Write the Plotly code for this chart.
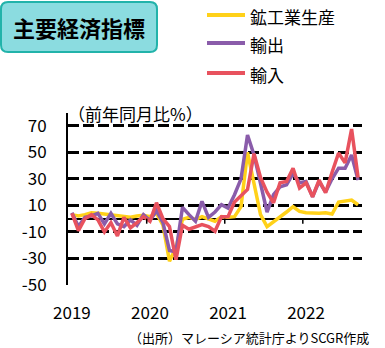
import plotly.graph_objects as go

# Monthly categories: Jan 2019 - Sep 2022
months = [f"{y}-{m:02d}" for y in range(2019, 2023) for m in range(1, 13)][:45]

series_names = ["鉱工業生産", "輸出", "輸入"]

# Year-on-year change (%)
industrial_production = [
    3, 2, 3, 4.5, 4, 3.5, 2.5, 2, 1.5, 1, 2, 2.5,
    1.5, 4, -5, -32, -22, -0.5, 1, -0.5, 1.5, -0.5, -2, 1.5,
    1, 1.5, 9, 50, 27, 3, -6, -2.5, 1.5, 5, 9, 5.5,
    4.5, 4, 4, 4.5, 3.5, 12.5, 13, 14, 10.5,
]
exports = [
    4.5, -6, 1, 2, 4, -4, 4, -4, -6, -1, -5, 3,
    -1.5, 6, -3, -24, -25, 8.5, 3, -2, 13, 1, 5, 10.5,
    8, 18, 30, 63, 48, 27, 5, 18, 24, 25.5, 34, 27,
    28, 16.5, 28, 20, 30, 38, 38, 48, 29,
]
imports = [
    4, -9, 0, 3, -1, -10, -3, -13, 1, -7, -3, 1.5,
    -2, 12, 0, -6, -31, -5, -8, -6, -4.5, -6, -9.5, 1.5,
    1.5, 12.5, 17, 22, 49, 31, 20, 12, 27, 28, 38, 23,
    27, 16.5, 29, 19.5, 35, 49.5, 42, 67.5, 31,
]

year_labels = ["2019", "2020", "2021", "2022"]
y_ticks = [-50, -30, -10, 10, 30, 50, 70]

colors = ["#FFD119", "#8A5CAA", "#E8525E"]
FONT = "Noto Sans CJK JP"

# Page and plot-area geometry (pixels)
W, H = 385, 348
L, R, T, B = 68, 23, 113, 63
PW = W - L - R
PH = H - T - B


def px(xp):
    return (xp - L) / PW


def py(yp):
    return (H - B - yp) / PH


fig = go.Figure()
for name, vals, col in zip(series_names, [industrial_production, exports, imports], colors):
    fig.add_trace(go.Scatter(
        x=months, y=vals, name=name, mode="lines",
        line=dict(color=col, width=3.5),
    ))

shapes = []

# Rounded title box
x0, x1, y0, y1, r = 1, 157, 2, 52, 7
pts = [
    ("M", [(x0 + r, y0)]), ("L", [(x1 - r, y0)]), ("Q", [(x1, y0), (x1, y0 + r)]),
    ("L", [(x1, y1 - r)]), ("Q", [(x1, y1), (x1 - r, y1)]),
    ("L", [(x0 + r, y1)]), ("Q", [(x0, y1), (x0, y1 - r)]),
    ("L", [(x0, y0 + r)]), ("Q", [(x0, y0), (x0 + r, y0)]),
]
path = " ".join(cmd + " ".join(f"{px(a):.5f},{py(b):.5f}" for a, b in p) for cmd, p in pts) + " Z"
shapes.append(dict(type="path", path=path, xref="paper", yref="paper",
                   fillcolor="#8BDCE0", line=dict(color="#22B3AA", width=2), layer="above"))

# Legend (line samples)
legend_rows = [15, 43, 73]
for yp, col in zip(legend_rows, colors):
    shapes.append(dict(type="line", xref="paper", yref="paper",
                       x0=px(207), x1=px(245), y0=py(yp), y1=py(yp),
                       line=dict(color=col, width=4)))

# Year boundary tick marks on the zero line
for k in range(1, len(year_labels)):
    xb = 12 * k - 0.5
    shapes.append(dict(type="line", xref="x", yref="y", x0=xb, x1=xb, y0=0, y1=-3.8,
                       line=dict(color="black", width=1.5)))

annotations = [
    dict(text="<b>主要経済指標</b>", x=px(79), y=py(27), xref="paper", yref="paper",
         xanchor="center", yanchor="middle", showarrow=False,
         font=dict(family=FONT, size=22, color="black")),
    dict(text="（前年同月比%）", x=px(66), y=py(113), xref="paper", yref="paper",
         xanchor="left", yanchor="middle", showarrow=False,
         font=dict(family=FONT, size=17, color="black")),
    dict(text="（出所）マレーシア統計庁よりSCGR作成", x=px(371), y=py(337), xref="paper", yref="paper",
         xanchor="right", yanchor="middle", showarrow=False,
         font=dict(family=FONT, size=13, color="black")),
]
for yp, name in zip(legend_rows, series_names):
    annotations.append(dict(text=name, x=px(248), y=py(yp + 1.5), xref="paper", yref="paper",
                            xanchor="left", yanchor="middle", showarrow=False,
                            font=dict(family=FONT, size=17, color="black")))

fig.update_layout(
    width=W, height=H,
    margin=dict(l=L, r=R, t=T, b=B, pad=0),
    paper_bgcolor="white", plot_bgcolor="white",
    showlegend=False,
    font=dict(family=FONT, size=17, color="black"),
    xaxis=dict(
        type="category", range=[-0.6, 44.6],
        tickvals=[months[0], months[12], months[24], months[36]], ticktext=year_labels,
        showgrid=False, zeroline=False, showline=False, ticks="",
        ticklabelstandoff=16, tickfont=dict(family=FONT, size=17, color="black"),
    ),
    yaxis=dict(
        range=[-50, 79.6], tickvals=y_ticks, ticktext=[str(v) for v in y_ticks],
        showgrid=True, gridcolor="black", gridwidth=3, griddash="11px,4px",
        zeroline=True, zerolinecolor="black", zerolinewidth=1.5,
        showline=True, linecolor="black", linewidth=2, ticks="",
        ticklabelstandoff=16, tickfont=dict(family=FONT, size=17, color="black"),
    ),
    shapes=shapes,
    annotations=annotations,
)

fig.write_html("out.html")
